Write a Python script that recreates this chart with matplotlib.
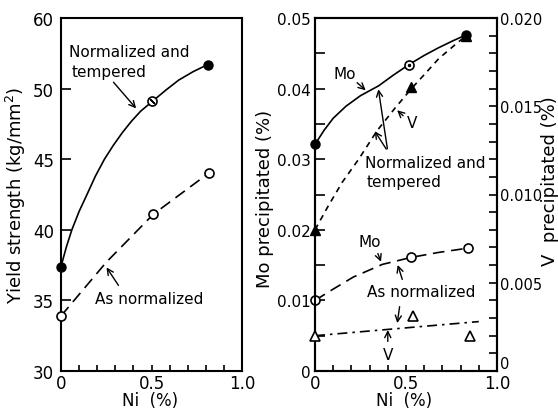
import numpy as np
import matplotlib
matplotlib.use("Agg")
import matplotlib.pyplot as plt
from matplotlib.ticker import MultipleLocator, FixedLocator, FixedFormatter

plt.rcParams['font.family'] = ['DejaVu Sans']
plt.rcParams['font.size'] = 11

# ---- left panel: yield strength (kg/mm2) vs Ni (%) ----
nt_ni = [0.0, 0.505, 0.81]
nt_ys = [37.4, 49.1, 51.7]
an_ni = [0.0, 0.51, 0.82]
an_ys = [33.9, 41.1, 44.05]
# trend lines as drawn in the picture
nt_line_ni = [0.0, 0.03, 0.06, 0.10, 0.14, 0.19, 0.24, 0.29, 0.34, 0.39, 0.44, 0.505, 0.58, 0.65, 0.73, 0.81]
nt_line_ys = [37.4, 38.8, 40.0, 41.3, 42.4, 43.8, 45.0, 46.0, 46.9, 47.7, 48.4, 49.1, 49.9, 50.6, 51.2, 51.7]
an_line_ni = [0.0, 0.25, 0.51, 0.82]
an_line_ys = [33.9, 37.7, 41.1, 44.05]
ys_ticks = [30, 35, 40, 45, 50, 55]
ys_labels = ['30', '35', '40', '45', '50', '60']

# ---- right panel: Mo and V precipitated (%) vs Ni (%) ----
mo_nt_ni = [0.0, 0.516, 0.83]
mo_nt = [0.0321, 0.0434, 0.0476]
v_nt_ni = [0.0, 0.53, 0.83]
v_nt = [0.0080, 0.0161, 0.0190]
mo_an_ni = [0.0, 0.53, 0.84]
mo_an = [0.0100, 0.0161, 0.0174]
v_an_ni = [0.0, 0.54, 0.85]
v_an = [0.0020, 0.0031, 0.0020]
mo_nt_line_ni = [0.0, 0.05, 0.10, 0.17, 0.25, 0.35, 0.43, 0.516, 0.60, 0.68, 0.76, 0.83]
mo_nt_line = [0.0321, 0.0341, 0.0358, 0.0375, 0.0390, 0.0404, 0.0419, 0.0434, 0.0447, 0.0458, 0.0468, 0.0476]
v_nt_line_ni = [0.0, 0.07, 0.15, 0.24, 0.34, 0.44, 0.53, 0.61, 0.68, 0.76, 0.83]
v_nt_line = [0.0080, 0.0093, 0.0107, 0.0120, 0.0136, 0.0149, 0.0160, 0.0169, 0.0177, 0.0184, 0.0190]
mo_an_line_ni = [0.0, 0.10, 0.21, 0.37, 0.53, 0.68, 0.84]
mo_an_line = [0.0100, 0.0116, 0.0133, 0.0151, 0.0161, 0.0168, 0.0174]
v_an_line_ni = [0.0, 0.9]
v_an_line = [0.0020, 0.0028]
mo_ticks = [0, 0.01, 0.02, 0.03, 0.04, 0.05]
mo_labels = ['0', '0.01', '0.02', '0.03', '0.04', '0.05']
v_ticks = [0, 0.005, 0.010, 0.015, 0.020]
v_labels = ['0', '0.005', '0.010', '0.015', '0.020']

fig = plt.figure(figsize=(5.58, 4.10), dpi=100)
ax1 = fig.add_axes([61 / 558, 38 / 410, 181 / 558, 353 / 410])
ax3 = fig.add_axes([315 / 558, 38 / 410, 182 / 558, 353 / 410])
ax4 = ax3.twinx()

for a in (ax1, ax3, ax4):
    for s in a.spines.values():
        s.set_linewidth(1.5)

k = 'black'

# left panel
ax1.plot(nt_line_ni, nt_line_ys, color=k, lw=1.2, clip_on=False)
ax1.plot(an_line_ni, an_line_ys, color=k, lw=1.2, dashes=(7, 4), clip_on=False)
ax1.plot([nt_ni[0], nt_ni[2]], [nt_ys[0], nt_ys[2]], 'o', color=k, ms=6.5, clip_on=False, zorder=5)
ax1.plot(nt_ni[1], nt_ys[1], 'o', mfc='white', mec=k, mew=1.2, ms=6.5, zorder=5)
ax1.plot(nt_ni[1], nt_ys[1], marker=(2, 2, 45), color=k, ms=5, mew=1, zorder=6)
ax1.plot(an_ni, an_ys, 'o', mfc='white', mec=k, mew=1.2, ms=6.5, clip_on=False, zorder=5)

ax1.set_xlim(0, 1.0)
ax1.set_ylim(30, 55)
ax1.xaxis.set_major_locator(FixedLocator([0, 0.5, 1.0]))
ax1.xaxis.set_major_formatter(FixedFormatter(['0', '0.5', '1.0']))
ax1.xaxis.set_minor_locator(MultipleLocator(0.1))
ax1.yaxis.set_major_locator(FixedLocator(ys_ticks))
ax1.yaxis.set_major_formatter(FixedFormatter(ys_labels))
ax1.tick_params(axis='y', direction='in', length=7, width=1.2, pad=5, labelsize=12)
ax1.tick_params(axis='x', which='both', direction='in', length=4, width=1.2, pad=2, labelsize=12)
ax1.set_ylabel('Yield strength (kg/mm$^2$)', fontsize=13)
ax1.yaxis.set_label_coords(-0.18, 0.5)
ax1.set_xlabel('Ni  (%)', fontsize=12)
ax1.xaxis.set_label_coords(0.49, -0.058)

ax1.text(0.044, 52.6, 'Normalized and', fontsize=11, va='center')
ax1.text(0.06, 51.2, 'tempered', fontsize=11, va='center')
ax1.annotate('', xy=(0.425, 48.45), xytext=(0.28, 50.6),
             arrowprops=dict(arrowstyle='->', lw=1, color=k))
ax1.text(0.188, 35.16, 'As normalized', fontsize=11, va='center')
ax1.annotate('', xy=(0.243, 37.5), xytext=(0.326, 35.9),
             arrowprops=dict(arrowstyle='->', lw=1, color=k))

# right panel, Mo on left axis
ax3.plot(mo_nt_line_ni, mo_nt_line, color=k, lw=1.2)
ax3.plot(mo_an_line_ni, mo_an_line, color=k, lw=1.2, dashes=(7, 4))
ax3.plot([mo_nt_ni[0], mo_nt_ni[2]], [mo_nt[0], mo_nt[2]], 'o', color=k, ms=6.5, clip_on=False, zorder=5)
ax3.plot(mo_nt_ni[1], mo_nt[1], 'o', mfc='white', mec=k, mew=1.2, ms=6.5, zorder=5)
ax3.plot(mo_nt_ni[1], mo_nt[1], marker='.', color=k, ms=3, zorder=6)
ax3.plot(mo_an_ni, mo_an, 'o', mfc='white', mec=k, mew=1.2, ms=6.5, clip_on=False, zorder=5)

# V on right axis
ax4.plot(v_nt_line_ni, v_nt_line, color=k, lw=1.2, dashes=(3.5, 3))
ax4.plot(v_an_line_ni, v_an_line, color=k, lw=1.2, dashes=(6, 3, 1.5, 3))
ax4.plot(v_nt_ni, v_nt, '^', color=k, ms=6.5, clip_on=False, zorder=5)
ax4.plot(v_an_ni, v_an, '^', mfc='white', mec=k, mew=1.2, ms=6.5, clip_on=False, zorder=5)

ax3.set_xlim(0, 1.0)
ax3.set_ylim(0, 0.05)
ax4.set_ylim(0, 0.020)
ax3.xaxis.set_major_locator(FixedLocator([0, 0.5, 1.0]))
ax3.xaxis.set_major_formatter(FixedFormatter(['0', '0.5', '1.0']))
ax3.xaxis.set_minor_locator(MultipleLocator(0.1))
ax3.yaxis.set_major_locator(FixedLocator(mo_ticks))
ax3.yaxis.set_major_formatter(FixedFormatter(mo_labels))
ax3.yaxis.set_minor_locator(MultipleLocator(0.005))
ax4.yaxis.set_major_locator(FixedLocator(v_ticks))
ax4.yaxis.set_major_formatter(FixedFormatter(v_labels))
ax4.yaxis.set_minor_locator(MultipleLocator(0.001))
ax3.tick_params(axis='y', which='both', direction='in', length=7, width=1.2, pad=3, labelsize=11)
ax3.tick_params(axis='x', which='both', direction='in', length=4, width=1.2, pad=2, labelsize=12)
ax4.tick_params(axis='y', which='both', direction='in', length=6, width=1.2, pad=2, labelsize=10.5)
ax3.set_ylabel('Mo precipitated (%)', fontsize=13)
ax3.yaxis.set_label_coords(-0.228, 0.49)
ax4.set_ylabel('V  precipitated (%)', fontsize=13, rotation=90)
ax4.yaxis.set_label_coords(1.24, 0.54)
ax3.set_xlabel('Ni  (%)', fontsize=12)
ax3.xaxis.set_label_coords(0.49, -0.058)

# lift the right-hand "0" clear of the "1.0" below it
fig.canvas.draw()
ax4.get_yticklabels()[0].set_verticalalignment('bottom')

ax3.text(0.165, 0.0422, 'Mo', fontsize=11, ha='center', va='center')
ax3.annotate('', xy=(0.29, 0.0395), xytext=(0.22, 0.0411),
             arrowprops=dict(arrowstyle='->', lw=1, color=k))
ax3.text(0.533, 0.0352, 'V', fontsize=11, ha='center', va='center')
ax3.annotate('', xy=(0.44, 0.0372), xytext=(0.495, 0.0359),
             arrowprops=dict(arrowstyle='->', lw=1, color=k))
ax3.annotate('', xy=(0.346, 0.0403), xytext=(0.40, 0.0311),
             arrowprops=dict(arrowstyle='->', lw=1, color=k))
ax3.annotate('', xy=(0.32, 0.0343), xytext=(0.40, 0.0311),
             arrowprops=dict(arrowstyle='->', lw=1, color=k))
ax3.text(0.275, 0.0295, 'Normalized and', fontsize=11, va='center')
ax3.text(0.285, 0.0268, 'tempered', fontsize=11, va='center')
ax3.text(0.30, 0.0184, 'Mo', fontsize=11, ha='center', va='center')
ax3.annotate('', xy=(0.368, 0.0151), xytext=(0.34, 0.0170),
             arrowprops=dict(arrowstyle='->', lw=1, color=k))
ax3.text(0.286, 0.0112, 'As normalized', fontsize=11, va='center')
ax3.annotate('', xy=(0.45, 0.0154), xytext=(0.484, 0.0126),
             arrowprops=dict(arrowstyle='->', lw=1, color=k))
ax3.annotate('', xy=(0.45, 0.0064), xytext=(0.467, 0.0095),
             arrowprops=dict(arrowstyle='->', lw=1, color=k))
ax3.text(0.40, 0.0024, 'V', fontsize=11, ha='center', va='center')
ax3.annotate('', xy=(0.40, 0.0062), xytext=(0.40, 0.0038),
             arrowprops=dict(arrowstyle='->', lw=1, color=k))

fig.savefig('out.png', dpi=100)
